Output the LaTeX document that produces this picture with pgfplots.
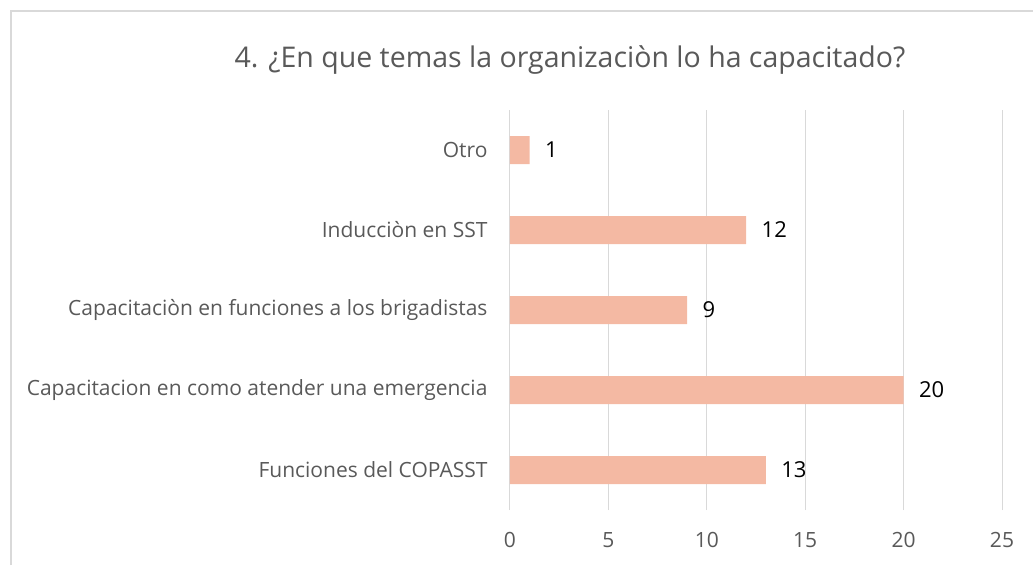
\documentclass[border=0pt]{standalone}
\usepackage{pgfplots}
\pgfplotsset{compat=1.18}
\usepackage{fontspec}
\setmainfont{Open Sans}
\definecolor{barc}{HTML}{F4B9A3}
\definecolor{gridc}{HTML}{D9D9D9}
\definecolor{txt}{HTML}{595959}
\begin{document}
\begin{tikzpicture}[x=1pt,y=1pt]
\useasboundingbox (0,0) rectangle (1033,565);
\draw[gridc, line width=1.5pt] (11,0) -- (11,554) -- (1033,554);
\node[txt, font=\fontsize{28.5}{34}\selectfont] at (570,505) {4. ¿En que temas la organizaciòn lo ha capacitado?};
\begin{axis}[
  at={(510pt,55pt)}, anchor=south west,
  xbar, width=492pt, height=400pt, scale only axis,
  xmin=0, xmax=25, ymin=-0.5, ymax=4.5,
  ytick={0,...,4},
  yticklabels={Funciones del COPASST, Capacitacion en como atender una emergencia, Capacitaciòn en funciones a los brigadistas, Inducciòn en SST, Otro},
  xtick={0,5,...,25},
  xmajorgrids, grid style={gridc, line width=1pt},
  axis line style={draw=none},
  major tick length=0pt,
  tick label style={txt, font=\fontsize{21}{25}\selectfont},
  /pgf/number format/assume math mode=true,
  yticklabel style={xshift=-19pt},
  xticklabel style={yshift=-19pt},
  bar width=28pt,
  nodes near coords,
  nodes near coords style={black, anchor=west, xshift=12pt, font=\fontsize{22}{26}\selectfont},
]
\addplot[fill=barc, draw=none] coordinates {(13,0) (20,1) (9,2) (12,3) (1,4)};
\end{axis}
\end{tikzpicture}
\end{document}
